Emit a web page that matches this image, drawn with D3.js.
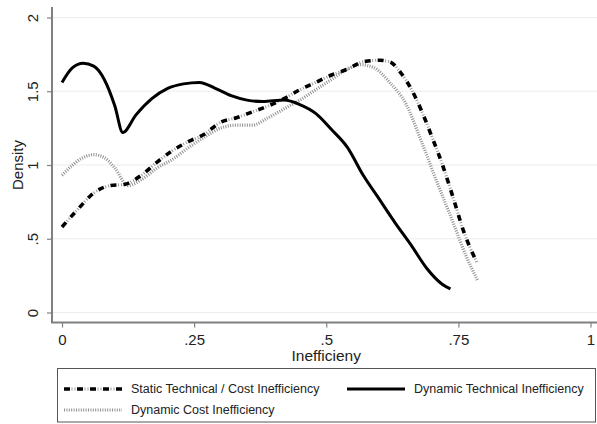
<!DOCTYPE html>
<html>
<head>
<meta charset="utf-8">
<script src="https://cdn.jsdelivr.net/npm/d3@7"></script>
<style>
  body { margin: 0; background: #fff; }
  svg { display: block; font-family: "Liberation Sans", Arial, sans-serif; }
</style>
</head>
<body>
<div id="chart"></div>
<script>
// Kernel density curves
const staticX = [0, 0.03, 0.06, 0.09, 0.12, 0.15, 0.18, 0.21, 0.24, 0.27, 0.30, 0.33, 0.36, 0.39, 0.42, 0.45, 0.48, 0.51, 0.54, 0.57, 0.60, 0.62, 0.64, 0.66, 0.68, 0.70, 0.72, 0.74, 0.76, 0.785];
const staticY = [0.58, 0.70, 0.81, 0.86, 0.87, 0.93, 1.02, 1.10, 1.16, 1.21, 1.29, 1.32, 1.36, 1.40, 1.45, 1.51, 1.56, 1.61, 1.65, 1.70, 1.71, 1.70, 1.63, 1.52, 1.37, 1.19, 1.00, 0.78, 0.55, 0.34];

const dynTechX = [0, 0.02, 0.04, 0.06, 0.08, 0.10, 0.115, 0.14, 0.17, 0.20, 0.23, 0.26, 0.29, 0.32, 0.35, 0.38, 0.42, 0.45, 0.48, 0.51, 0.54, 0.57, 0.60, 0.63, 0.66, 0.69, 0.72, 0.735];
const dynTechY = [1.56, 1.66, 1.69, 1.67, 1.58, 1.40, 1.22, 1.34, 1.45, 1.52, 1.55, 1.56, 1.52, 1.47, 1.44, 1.43, 1.44, 1.41, 1.35, 1.24, 1.12, 0.93, 0.77, 0.61, 0.46, 0.30, 0.19, 0.16];

const dynCostX = [0, 0.02, 0.04, 0.06, 0.08, 0.10, 0.125, 0.15, 0.18, 0.21, 0.24, 0.27, 0.30, 0.33, 0.36, 0.39, 0.42, 0.45, 0.48, 0.51, 0.54, 0.565, 0.59, 0.62, 0.65, 0.68, 0.71, 0.74, 0.765, 0.786];
const dynCostY = [0.93, 1.00, 1.05, 1.07, 1.05, 0.98, 0.86, 0.90, 0.98, 1.04, 1.12, 1.19, 1.25, 1.27, 1.27, 1.32, 1.38, 1.44, 1.51, 1.58, 1.65, 1.68, 1.66, 1.56, 1.42, 1.16, 0.88, 0.61, 0.38, 0.22];

const xTicks = [0, 0.25, 0.5, 0.75, 1];
const xTickLabels = ["0", ".25", ".5", ".75", "1"];
const yTicks = [0, 0.5, 1, 1.5, 2];
const yTickLabels = ["0", ".5", "1", "1.5", "2"];

const W = 597, H = 424;

const svg = d3.select("#chart").append("svg")
  .attr("width", W)
  .attr("height", H);

const x = d3.scaleLinear().domain([0, 1]).range([62, 590.5]);
const y = d3.scaleLinear().domain([0, 2]).range([312.5, 17.5]);

const axisColor = "#808080";

// gridlines
svg.append("g")
  .selectAll("line")
  .data(yTicks)
  .join("line")
  .attr("x1", 53).attr("x2", W)
  .attr("y1", d => y(d)).attr("y2", d => y(d))
  .attr("stroke", "#ececec")
  .attr("stroke-width", 1.2);

// y axis
const yAxis = svg.append("g")
  .attr("transform", "translate(52,0)")
  .call(d3.axisLeft(y).tickValues(yTicks).tickFormat((d, i) => yTickLabels[i]).tickSize(5).tickSizeOuter(0));
yAxis.select(".domain").remove();
yAxis.append("line")
  .attr("x1", 0).attr("x2", 0).attr("y1", 7).attr("y2", 323)
  .attr("stroke", axisColor).attr("stroke-width", 2);
yAxis.selectAll(".tick line").attr("stroke", axisColor).attr("stroke-width", 1.2);
yAxis.selectAll(".tick text")
  .attr("x", 0).attr("dy", 0)
  .attr("transform", "translate(-14,0) rotate(-90)")
  .attr("text-anchor", "middle")
  .attr("font-size", 15)
  .attr("fill", "#222");

// x axis
const xAxis = svg.append("g")
  .attr("transform", "translate(0,322.5)")
  .call(d3.axisBottom(x).tickValues(xTicks).tickFormat((d, i) => xTickLabels[i]).tickSize(5).tickSizeOuter(0));
xAxis.select(".domain").remove();
xAxis.append("line")
  .attr("x1", 51).attr("x2", W).attr("y1", 0).attr("y2", 0)
  .attr("stroke", axisColor).attr("stroke-width", 2);
xAxis.selectAll(".tick line").attr("stroke", axisColor).attr("stroke-width", 1.2);
xAxis.selectAll(".tick text")
  .attr("y", 12).attr("dy", "0.71em")
  .attr("font-size", 15)
  .attr("fill", "#222");

// axis titles
svg.append("text")
  .attr("transform", "translate(23,165) rotate(-90)")
  .attr("text-anchor", "middle")
  .attr("font-size", 15)
  .attr("fill", "#222")
  .text("Density");

svg.append("text")
  .attr("x", x(0.5)).attr("y", 361)
  .attr("text-anchor", "middle")
  .attr("font-size", 15.5)
  .attr("fill", "#222")
  .text("Inefficieny");

// curves
const line = d3.line()
  .x(d => x(d[0]))
  .y(d => y(d[1]))
  .curve(d3.curveMonotoneX);

const zip = (xs, ys) => xs.map((v, i) => [v, ys[i]]);

const plot = svg.append("g");

// dynamic cost: fine grey dots
plot.append("path")
  .datum(zip(dynCostX, dynCostY))
  .attr("d", line)
  .attr("fill", "none")
  .attr("stroke", "#909090")
  .attr("stroke-width", 3.2)
  .attr("stroke-dasharray", "1,1.4");

// static: black dash + grey dots
plot.append("path")
  .datum(zip(staticX, staticY))
  .attr("d", line)
  .attr("fill", "none")
  .attr("stroke", "#999")
  .attr("stroke-width", 3)
  .attr("stroke-dasharray", "0,7.5,1,2,1,1.5");
plot.append("path")
  .datum(zip(staticX, staticY))
  .attr("d", line)
  .attr("fill", "none")
  .attr("stroke", "#000")
  .attr("stroke-width", 3.6)
  .attr("stroke-dasharray", "6,7");

// dynamic technical: solid
plot.append("path")
  .datum(zip(dynTechX, dynTechY))
  .attr("d", line)
  .attr("fill", "none")
  .attr("stroke", "#000")
  .attr("stroke-width", 3)
  .attr("stroke-linejoin", "round");

// legend
const legend = svg.append("g");
legend.append("rect")
  .attr("x", 57.5).attr("y", 368.5)
  .attr("width", 538).attr("height", 53.5)
  .attr("fill", "#fff")
  .attr("stroke", "#555")
  .attr("stroke-width", 1);

const legendItems = [
  { label: "Static Technical / Cost Inefficiency", x0: 64, y0: 389, kind: "static" },
  { label: "Dynamic Technical Inefficiency", x0: 347, y0: 389, kind: "solid" },
  { label: "Dynamic Cost Inefficiency", x0: 64, y0: 410, kind: "dots" }
];

legendItems.forEach(it => {
  const g = legend.append("g");
  if (it.kind === "static") {
    g.append("line").attr("x1", it.x0).attr("x2", it.x0 + 58).attr("y1", it.y0).attr("y2", it.y0)
      .attr("stroke", "#999").attr("stroke-width", 3).attr("stroke-dasharray", "0,7.5,1,2,1,1.5");
    g.append("line").attr("x1", it.x0).attr("x2", it.x0 + 58).attr("y1", it.y0).attr("y2", it.y0)
      .attr("stroke", "#000").attr("stroke-width", 3.6).attr("stroke-dasharray", "6,7");
  } else if (it.kind === "solid") {
    g.append("line").attr("x1", it.x0).attr("x2", it.x0 + 58).attr("y1", it.y0).attr("y2", it.y0)
      .attr("stroke", "#000").attr("stroke-width", 3);
  } else {
    g.append("line").attr("x1", it.x0).attr("x2", it.x0 + 58).attr("y1", it.y0).attr("y2", it.y0)
      .attr("stroke", "#909090").attr("stroke-width", 3).attr("stroke-dasharray", "1,1.4");
  }
  g.append("text")
    .attr("x", it.x0 + 67)
    .attr("y", it.y0)
    .attr("dy", "0.35em")
    .attr("font-size", 12.5)
    .attr("fill", "#222")
    .text(it.label);
});
</script>
</body>
</html>
